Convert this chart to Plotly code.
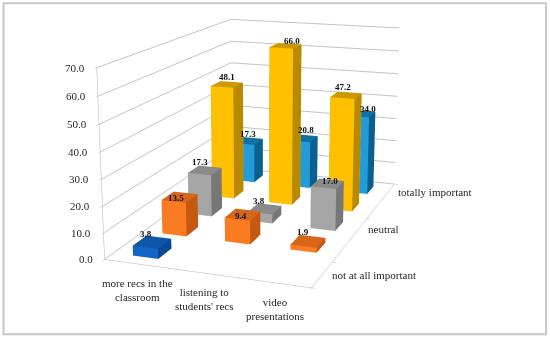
import plotly.graph_objects as go

categories = ["more recs in the<br>classroom", "listening to<br>students' recs", "video<br>presentations"]
series_names = ["not at all important", "", "neutral", "", "totally important"]
s_dark = [3.8, 0, 0]
s_orange = [13.5, 9.4, 1.9]
s_gray = [17.3, 3.8, 17.0]
s_yellow = [48.1, 66.0, 47.2]
s_blue = [17.3, 20.8, 34.0]
ticks = [0, 10, 20, 30, 40, 50, 60, 70]
all_values = [s_dark, s_orange, s_gray, s_yellow, s_blue]

FIG_W, FIG_H = 600, 857
OFF_X, OFF_Y = 264.5 - FIG_W / 2, 133.2 - FIG_H / 2
BORDER = (3, 3, 545.5, 334)

bar_w, bar_d = 0.39, 0.45
cols = [("#1266c4", "#0b4a92", "#0d56a8"), ("#fb7b22", "#c45a12", "#d8661a"), ("#a6a6a6", "#777777", "#8a8a8a"),
        ("#ffc000", "#b98a00", "#cc9a00"), ("#229bd8", "#08618c", "#0f70a2")]
# label nudges (px right, px down) per series / category
nudges = [[(-6, 0), (0, 0), (0, 0)],
          [(-4, 9), (-2, 9), (-5, -1)],
          [(-5, 0), (-6, 0), (2, 5)],
          [(0, 1), (6, 3), (-3, 0)],
          [(0, 1), (3, 0), (7, 3)]]

fig = go.Figure()
ann = []
def lab(x, y, z, t, **k):
    ann.append(dict(x=x, y=y, z=z, text=t, showarrow=False, **k))

for si, vals in enumerate(all_values):
    vx, vy, vz, I, J, K, fc = [], [], [], [], [], [], []
    for ci, v in enumerate(vals):
        if v == 0:
            continue
        x0, x1 = ci + .5 - bar_w / 2, ci + .5 + bar_w / 2
        y0, y1 = si + .5 - bar_d / 2, si + .5 + bar_d / 2
        b = len(vx)
        vx += [x0, x1, x1, x0, x0, x1, x1, x0]
        vy += [y0, y0, y1, y1, y0, y0, y1, y1]
        vz += [0, 0, 0, 0, v, v, v, v]
        quads = [((0, 1, 5, 4), 0), ((1, 2, 6, 5), 1), ((4, 5, 6, 7), 2), ((3, 0, 4, 7), 1), ((2, 3, 7, 6), 0), ((0, 1, 2, 3), 2)]
        for q, c in quads:
            for t in ((q[0], q[1], q[2]), (q[0], q[2], q[3])):
                I.append(b + t[0]); J.append(b + t[1]); K.append(b + t[2]); fc.append(cols[si][c])
        dx, dy = nudges[si][ci]
        lab(ci + .5, si + .5, v, f"{v:.1f}", xshift=dx, yshift=8 - dy,
            font=dict(family="Liberation Serif", size=9, color="#111", weight=700))
    fig.add_trace(go.Mesh3d(x=vx, y=vy, z=vz, i=I, j=J, k=K, facecolor=fc, flatshading=True, hoverinfo="skip",
                            lighting=dict(ambient=1, diffuse=0, specular=0, fresnel=0, roughness=1)))

TF = dict(family="Liberation Serif", size=11, color="#262626")
for t in ticks:
    lab(0, 0, t, f"{t:.1f}", xanchor="right", xshift=-10, font=TF)
for i, c in enumerate(categories):
    lab(i + .5, 0, 0, c, yshift=-26, font=TF)
for i, n in enumerate(series_names):
    if n:
        lab(3, i + .5, 0, n, xanchor="left", xshift=7.5, font=TF)

ax_common = dict(showbackground=False, showspikes=False, title="", showticklabels=False, zeroline=False,
                 showline=True, linecolor="#b5b5b5", linewidth=1, ticks="outside", ticklen=3, tickcolor="#b5b5b5", gridcolor="#c4c4c4")
bx0, by0, bx1, by1 = BORDER
fig.update_layout(width=FIG_W, height=FIG_H, margin=dict(l=0, r=0, t=0, b=0), paper_bgcolor="white", showlegend=False,
    scene=dict(domain=dict(x=[0, 1], y=[0, 1]), aspectmode="manual", aspectratio=dict(x=1.112, y=1.790, z=1),
        camera=dict(eye=dict(x=1.896, y=-5.318, z=1.442), center=dict(x=0, y=0, z=0), up=dict(x=0, y=0, z=1), projection=dict(type="perspective")),
        xaxis=dict(ax_common, range=[0, 3], tickvals=[0, 1, 2, 3], showgrid=False),
        yaxis=dict(ax_common, range=[0, 5], tickvals=[0, 1, 3, 5], showgrid=False),
        zaxis=dict(ax_common, range=[0, 70], tickvals=ticks, showgrid=True),
        annotations=ann),
    shapes=[dict(type="rect", xref="paper", yref="paper",
                 x0=(bx0 - OFF_X) / FIG_W, x1=(bx1 - OFF_X) / FIG_W,
                 y0=1 - (by1 - OFF_Y) / FIG_H, y1=1 - (by0 - OFF_Y) / FIG_H,
                 line=dict(color="#c8c8c8", width=2))])
post = ("document.documentElement.style.overflow='hidden';document.body.style.overflow='hidden';document.body.style.margin='0';"
        "var g=document.getElementById('{plot_id}');g.style.position='absolute';"
        f"g.style.left='{OFF_X}px';g.style.top='{OFF_Y}px';")
fig.write_html("out.html", post_script=post, config=dict(displayModeBar=False))
